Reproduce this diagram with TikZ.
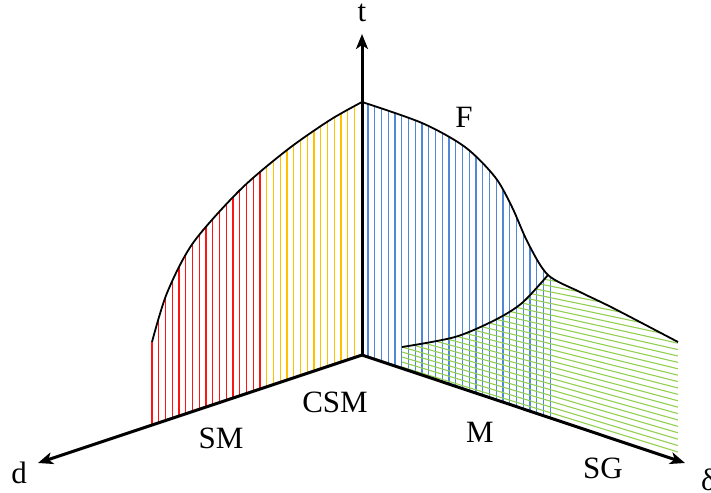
\documentclass[tikz,border=0pt]{standalone}
\usepackage{fontspec}
\setmainfont{Liberation Serif}
\usetikzlibrary{arrows.meta}
\definecolor{hred}{RGB}{255,20,20}
\definecolor{hyellow}{RGB}{255,192,0}
\definecolor{hblue}{RGB}{80,135,215}
\definecolor{hgreen}{RGB}{146,208,80}
\begin{document}
\begin{tikzpicture}[x=1pt,y=-1pt,
  axis/.style={line width=3pt,-{Stealth[length=15pt,width=12pt,inset=4pt]}},
  curve/.style={line width=1.8pt},
  hatch/.style={line width=1.1pt},
  lab/.style={font=\fontsize{31}{33}\selectfont, anchor=base, inner sep=0pt}]
\useasboundingbox (0,0) rectangle (711,492);

\coordinate (O) at (362,355);
\coordinate (T) at (362,34);
\coordinate (D) at (38,463);
\coordinate (E) at (685,463);

% left hatching (red / yellow)
\begin{scope}
  \clip (151,426) -- (151,342) -- plot[smooth] coordinates {(152,342) (167,293) (193,243) (240,190) (287,150) (330,120) (362,102)} -- (O) -- cycle;
  \foreach \i in {0,...,16} \draw[hatch,hred] ({152+6.75*\i},0) -- ++(0,492);
  \foreach \i in {17,...,30} \draw[hatch,hyellow] ({152+6.75*\i},0) -- ++(0,492);
\end{scope}

% right hatching (blue)
\begin{scope}
  \clip (O) -- (362,102) -- plot[smooth] coordinates {(362,102) (422,123) (465,147) (495,177) (512,207) (528,243) (548,275) (580,292) (613,308) (678,342)} -- (678,460.7) -- cycle;
  \foreach \i in {0,...,27} \draw[hatch,hblue] ({368+6.75*\i},0) -- ++(0,492);
  % green hatching
  \begin{scope}
    \clip (402,347) -- plot[smooth] coordinates {(402,347) (455,337) (495,320) (522,303) (548,275)} -- (548,200) -- (700,200) -- (700,480) -- (402,480) -- cycle;
    \foreach \k in {0,...,24} \draw[hatch,hgreen] (402,{367-5*\k}) -- (678,{452-6.4*\k});
  \end{scope}
\end{scope}

% curves
\draw[curve] plot[smooth] coordinates {(152,342) (167,293) (193,243) (240,190) (287,150) (330,120) (362,102)};
\draw[curve] plot[smooth] coordinates {(362,102) (422,123) (465,147) (495,177) (512,207) (528,243) (548,275) (580,292) (613,308) (678,342)};
\draw[curve] plot[smooth] coordinates {(402,347) (455,337) (495,320) (522,303) (548,275)};

% axes
\draw[axis] (O) -- (T);
\draw[axis] (O) -- (D);
\draw[axis] (O) -- (E);

% labels
\node[lab] (lt) at (362,22) {t};
\node[lab] (ld) at (19,483) {d};
\node[lab,anchor=base west] (le) at (701,490) {δ};
\node[lab] (lF) at (464,127) {F};
\node[lab] (lCSM) at (335,412) {CSM};
\node[lab] (lSM) at (221,448) {SM};
\node[lab] (lM) at (480,442) {M};
\node[lab] (lSG) at (603,478) {SG};
\end{tikzpicture}
\end{document}
